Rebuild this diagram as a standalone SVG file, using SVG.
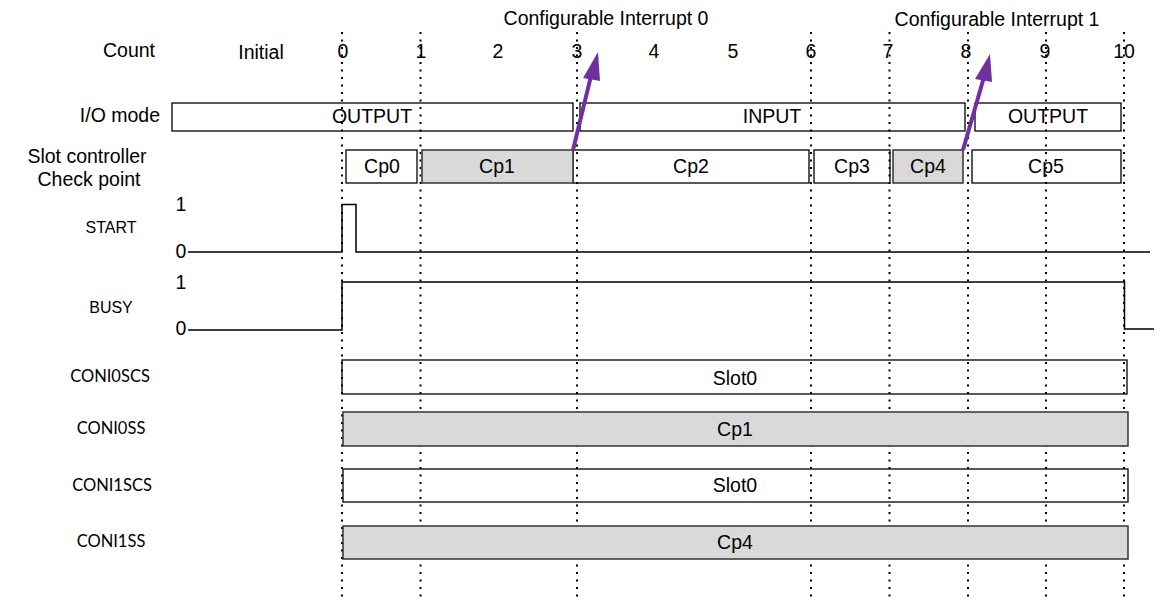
<svg xmlns="http://www.w3.org/2000/svg" width="1169" height="608" viewBox="0 0 1169 608">
<style>
.t{font-family:"Liberation Sans",Arial,sans-serif;font-size:19.5px;fill:#000}
.s{font-family:"Liberation Sans",Arial,sans-serif;font-size:16px;fill:#000}
.c{font-family:Lato,"Open Sans",sans-serif;font-size:16.5px;fill:#000}
.m{text-anchor:middle}
.e{text-anchor:end}
.w{fill:#fff;stroke:#000;stroke-width:1.3}
.g{fill:#d9d9d9;stroke:#333;stroke-width:1.5}
.dot{stroke:#000;stroke-width:2;stroke-dasharray:2 5.5}
.sig{fill:none;stroke:#000;stroke-width:1.5}
.arr{stroke:#7030a0;stroke-width:4;fill:none}
.head{fill:#7030a0}
</style>
<rect width="1169" height="608" fill="#fff"/>
<g id="labels">
<text class="t m" x="129" y="57">Count</text>
<text class="t e" x="160" y="122">I/O mode</text>
<text class="t m" x="87" y="163">Slot controller</text>
<text class="t m" x="89" y="186">Check point</text>
<text class="s m" x="111" y="233">START</text>
<text class="s m" x="111" y="313">BUSY</text>
<text class="c m" x="110" y="382">CONI0SCS</text>
<text class="c m" x="111" y="434">CONI0SS</text>
<text class="c m" x="112" y="491">CONI1SCS</text>
<text class="c m" x="111" y="547">CONI1SS</text>
</g>
<g id="count">
<text class="t m" x="261" y="59">Initial</text>
<text class="t m" x="343" y="58">0</text>
<text class="t m" x="421" y="58">1</text>
<text class="t m" x="498" y="58">2</text>
<text class="t m" x="577" y="58">3</text>
<text class="t m" x="654" y="58">4</text>
<text class="t m" x="733" y="58">5</text>
<text class="t m" x="811" y="58">6</text>
<text class="t m" x="888" y="58">7</text>
<text class="t m" x="966" y="58">8</text>
<text class="t m" x="1045" y="58">9</text>
<text class="t m" x="1124" y="58">10</text>
</g>
<g id="interrupt-labels">
<text class="t m" x="606" y="25">Configurable Interrupt 0</text>
<text class="t m" x="997" y="26">Configurable Interrupt 1</text>
</g>
<g id="io-mode">
<rect class="w" x="172" y="103" width="401" height="28"/>
<rect class="w" x="580" y="103" width="385" height="28"/>
<rect class="w" x="975" y="103" width="146" height="28"/>
<text class="t m" x="372" y="123">OUTPUT</text>
<text class="t m" x="772" y="123">INPUT</text>
<text class="t m" x="1048" y="123">OUTPUT</text>
</g>
<g id="checkpoints-white">
<rect class="w" x="346" y="150" width="71" height="33"/>
<rect class="w" x="573" y="150" width="236" height="33"/>
<rect class="w" x="814" y="150" width="76" height="33"/>
<rect class="w" x="972" y="150" width="149" height="33"/>
</g>
<g id="slot-white">
<rect class="w" x="342" y="360" width="785" height="34"/>
<rect class="w" x="343" y="469" width="785" height="33"/>
</g>
<g id="gridlines">
<line class="dot" x1="342" y1="32" x2="342" y2="598"/>
<line class="dot" x1="420.5" y1="32" x2="420.5" y2="598"/>
<line class="dot" x1="577" y1="32" x2="577" y2="598"/>
<line class="dot" x1="811" y1="32" x2="811" y2="598"/>
<line class="dot" x1="889.5" y1="32" x2="889.5" y2="598"/>
<line class="dot" x1="968" y1="32" x2="968" y2="598"/>
<line class="dot" x1="1046" y1="32" x2="1046" y2="598"/>
<line class="dot" x1="1124" y1="32" x2="1124" y2="598"/>
</g>
<g id="checkpoints-gray">
<rect class="g" x="422" y="150" width="151" height="33"/>
<rect class="g" x="893" y="150" width="70" height="33"/>
</g>
<g id="slot-gray">
<rect class="g" x="343" y="412" width="785" height="34"/>
<rect class="g" x="343" y="526" width="785" height="33"/>
</g>
<g id="checkpoint-text">
<text class="t m" x="382" y="173">Cp0</text>
<text class="t m" x="497" y="173">Cp1</text>
<text class="t m" x="691" y="173">Cp2</text>
<text class="t m" x="852" y="173">Cp3</text>
<text class="t m" x="928" y="173">Cp4</text>
<text class="t m" x="1046" y="173">Cp5</text>
</g>
<g id="slot-text">
<text class="t m" x="735" y="385">Slot0</text>
<text class="t m" x="735" y="436">Cp1</text>
<text class="t m" x="735" y="492">Slot0</text>
<text class="t m" x="735" y="549">Cp4</text>
</g>
<g id="start">
<text class="t m" x="181" y="211">1</text>
<text class="t m" x="181" y="258">0</text>
<path class="sig" d="M188 252 H342 V204.5 H356 V252 H1150"/>
</g>
<g id="busy">
<text class="t m" x="181" y="289">1</text>
<text class="t m" x="181" y="335">0</text>
<path class="sig" d="M188 330 H342 V282 H1124.5 V329 H1154"/>
</g>
<g id="connectors">
<line class="arr" x1="573" y1="150" x2="591" y2="76"/>
<path class="head" d="M598 52 L583 78 L600 81 Z"/>
<line class="arr" x1="963" y1="150" x2="984" y2="77"/>
<path class="head" d="M990 54 L975 79 L992 82 Z"/>
</g>
</svg>
